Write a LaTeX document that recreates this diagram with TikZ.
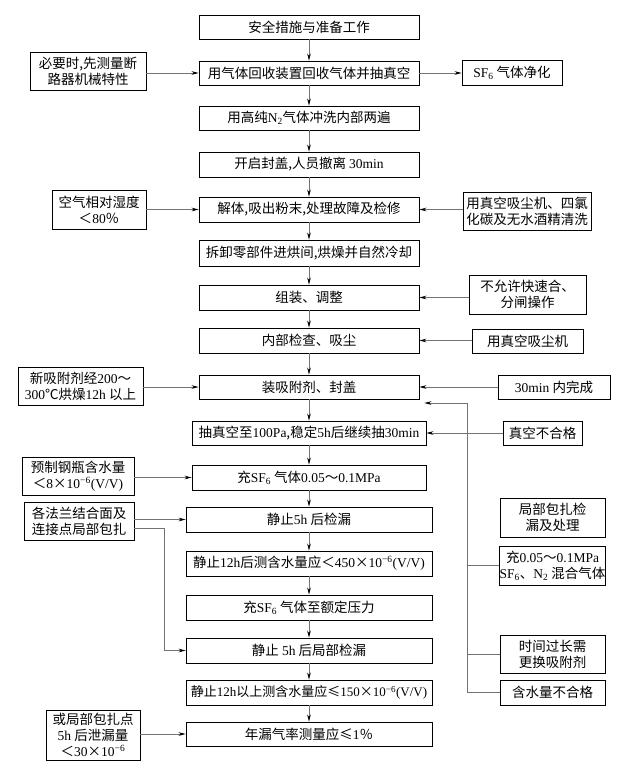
\documentclass[tikz,border=0pt]{standalone}
\usepackage{fontspec}
\setmainfont{Noto Sans CJK SC}
\newfontfamily\latf{Liberation Serif}
\newcommand\tl[1]{{\latf #1}}
\usetikzlibrary{arrows.meta,calc}
\tikzset{
 box/.style={draw=black, line width=0.8pt, inner sep=0pt, align=center, font=\fontsize{13.5}{16}\selectfont},
 conn/.style={draw=black!55, line width=0.7pt},
 arr/.style={conn, -{Stealth[length=7pt,width=3.6pt,color=black]}},
}
\begin{document}
\begin{tikzpicture}[x=1pt,y=1pt]
\useasboundingbox (0,0) rectangle (619,-761);
% main column
\node[box,minimum width=220,minimum height=24] (m1) at (309,-27) {安全措施与准备工作};
\node[box,minimum width=220,minimum height=24] (m2) at (309,-73) {用气体回收装置回收气体并抽真空};
\node[box,minimum width=220,minimum height=24] (m3) at (309,-118) {用高纯\tl{N\textsubscript{2}}气体冲洗内部两遍};
\node[box,minimum width=220,minimum height=25] (m4) at (309,-164.5) {开启封盖,人员撤离 \tl{30min}};
\node[box,minimum width=220,minimum height=25] (m5) at (309,-209.5) {解体,吸出粉末,处理故障及检修};
\node[box,minimum width=220,minimum height=26] (m6) at (309,-253) {拆卸零部件进烘间,烘燥并自然冷却};
\node[box,minimum width=220,minimum height=25] (m7) at (309,-297.5) {组装、调整};
\node[box,minimum width=220,minimum height=25] (m8) at (309,-340.5) {内部检查、吸尘};
\node[box,minimum width=220,minimum height=24] (m9) at (309,-387) {装吸附剂、封盖};
\node[box,minimum width=234,minimum height=24] (m10) at (309,-433) {抽真空至\tl{100Pa},稳定\tl{5h}后继续抽\tl{30min}};
\node[box,minimum width=234,minimum height=25] (m11) at (309,-477.5) {充\tl{SF\textsubscript{6}} 气体\tl{0.05}～\tl{0.1MPa}};
\node[box,minimum width=246,minimum height=25] (m12) at (309,-519.5) {静止\tl{5h} 后检漏};
\node[box,minimum width=246,minimum height=25] (m13) at (309,-563.5) {静止\tl{12h}后测含水量应＜\tl{450}×\tl{10\textsuperscript{−6}(V/V)}};
\node[box,minimum width=246,minimum height=25] (m14) at (309,-607.5) {充\tl{SF\textsubscript{6}} 气体至额定压力};
\node[box,minimum width=246,minimum height=25] (m15) at (309,-650.5) {静止 \tl{5h} 后局部检漏};
\node[box,minimum width=246,minimum height=25,font=\fontsize{13}{16}\selectfont] (m16) at (309,-692.5) {静止\tl{12h}以上测含水量应≤\tl{150}×\tl{10\textsuperscript{−6}(V/V)}};
\node[box,minimum width=246,minimum height=24] (m17) at (309,-734) {年漏气率测量应≤\tl{1}％};
% left column
\node[box,minimum width=116,minimum height=38] (l1) at (88,-71) {必要时,先测量断\\路器机械特性};
\node[box,minimum width=94,minimum height=39] (l2) at (99,-209.5) {空气相对湿度\\＜\tl{80}％};
\node[box,minimum width=125,minimum height=38] (l3) at (80.5,-386) {新吸附剂经\tl{200}～\\\tl{300}℃烘燥\tl{12h} 以上};
\node[box,minimum width=112,minimum height=38] (l4) at (78,-476) {预制钢瓶含水量\\＜\tl{8}×\tl{10\textsuperscript{−6}(V/V)}};
\node[box,minimum width=110,minimum height=38] (l5) at (79,-521) {各法兰结合面及\\连接点局部包扎};
\node[box,minimum width=94,minimum height=50] (l6) at (93,-735) {或局部包扎点\\\tl{5h} 后泄漏量\\＜\tl{30}×\tl{10\textsuperscript{−6}}};
% right column
\node[box,minimum width=100,minimum height=25] (r1) at (512,-72.5) {\tl{SF\textsubscript{6}} 气体净化};
\node[box,minimum width=128,minimum height=38] (r2) at (527,-211) {用真空吸尘机、四氯\\化碳及无水酒精清洗};
\node[box,minimum width=117,minimum height=39] (r3) at (527.5,-294.5) {不允许快速合、\\分闸操作};
\node[box,minimum width=111,minimum height=24] (r4) at (527.5,-341) {用真空吸尘机};
\node[box,minimum width=112,minimum height=24] (r5) at (554,-387) {\tl{30min} 内完成};
\node[box,minimum width=79,minimum height=24] (r6) at (542.5,-433) {真空不合格};
\node[box,minimum width=105,minimum height=39] (r7) at (552.5,-517.5) {局部包扎检\\漏及处理};
\node[box,minimum width=105,minimum height=39] (r8) at (552.5,-565.5) {充\tl{0.05}～\tl{0.1MPa}\\\tl{SF\textsubscript{6}}、\tl{N\textsubscript{2}} 混合气体};
\node[box,minimum width=105,minimum height=38] (r9) at (552.5,-654) {时间过长需\\更换吸附剂};
\node[box,minimum width=105,minimum height=25] (r10) at (552.5,-692.5) {含水量不合格};
% main flow
\foreach \a/\b in {m1/m2,m2/m3,m3/m4,m4/m5,m5/m6,m6/m7,m7/m8,m8/m9,m9/m10,m10/m11,m11/m12,m12/m13,m13/m14,m14/m15,m15/m16,m16/m17}
  \draw[arr] (\a.south) -- (\b.north);
% left inputs
\draw[arr] (l1.east |- m2) -- (m2.west);
\draw[arr] (l2.east |- m5) -- (m5.west);
\draw[arr] (l3.east |- m9) -- (m9.west);
\draw[arr] (l4.east |- m11) -- (m11.west);
\draw[arr] (l5.east |- m12) -- (m12.west);
\draw[arr] (l6.east |- m17) -- (m17.west);
\coordinate (lx) at (164,-528);
\draw[arr] (l5.east |- lx) -- (lx) |- (m15.west);
% right
\draw[arr] (m2.east) -- (r1.west |- m2);
\draw[arr] (r2.west |- m5) -- (m5.east);
\draw[arr] (r3.west |- m7) -- (m7.east);
\draw[arr] (r4.west |- m8) -- (m8.east);
\draw[arr] (r5.west |- m9) -- (m9.east);
\draw[arr] (r6.west |- m10) -- (m10.east);
% feedback
\coordinate (fbx) at (467,-403);
\coordinate (fbtip) at ($(m9.east |- fbx)+(5,0)$);
\draw[arr] (r10.west) -| (fbx) -- (fbtip);
\draw[conn] (r9.west) -- (r9.west -| fbx);
\draw[conn] (r8.west) -- (r8.west -| fbx);
\end{tikzpicture}
\end{document}
